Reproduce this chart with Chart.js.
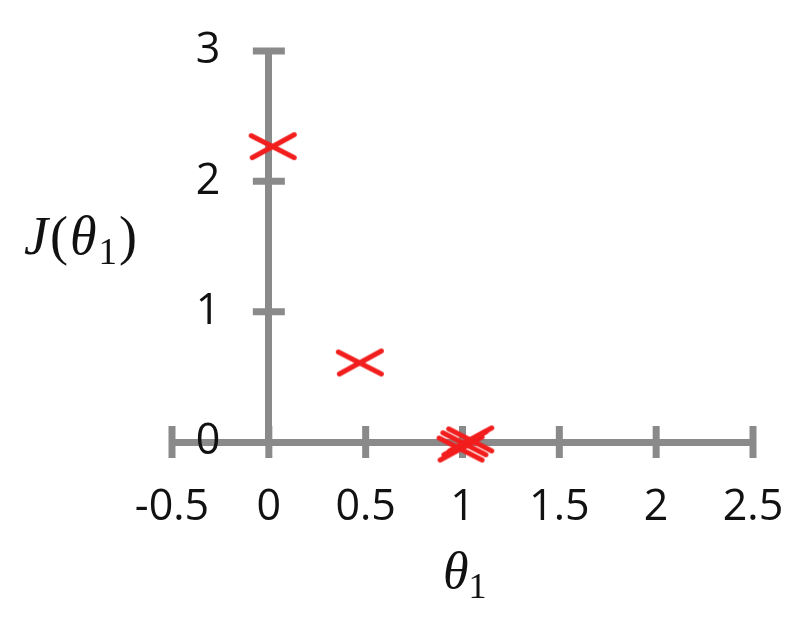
<!DOCTYPE html>
<html>
<head>
<meta charset="utf-8">
<script src="https://cdn.jsdelivr.net/npm/chart.js@4/dist/chart.umd.min.js"></script>
<style>
  html, body { margin: 0; padding: 0; background: #fff; }
  #wrap { position: relative; width: 799px; height: 629px; }
  #c { position: absolute; left: 0; top: 0; }
  .lab { position: absolute; font-family: 'Liberation Serif', 'DejaVu Serif', serif; color: #111; white-space: nowrap; }
  .lab sub { vertical-align: -10px; font-style: normal; }
  .lab i { font-style: italic; }
  #ylab { font-size: 54px; line-height: 56px; letter-spacing: 2px; }
  #ylab sub { font-size: 37px; }
  #xlab { font-size: 52px; line-height: 52px; }
  #xlab sub { font-size: 36px; }
</style>
</head>
<body>
<div id="wrap">
  <canvas id="c" width="799" height="629"></canvas>
  <div class="lab" id="ylab" style="left:24px; top:208px;"><i>J</i>(<i>θ</i><sub>1</sub>)</div>
  <div class="lab" id="xlab" style="left:443px; top:545px;"><i>θ</i><sub>1</sub></div>
</div>
<script>
// ---- data ----
const xTickLabels = ['-0.5', '0', '0.5', '1', '1.5', '2', '2.5'];
const yTickLabels = ['0', '1', '2', '3'];
const thetaValues = [0.02, 0.47, 0.99, 1.01, 1.04];
const costValues  = [2.27, 0.61, -0.05, -0.01, 0.02];

const points = thetaValues.map((x, i) => ({ x: x, y: costValues[i] }));

// hand-drawn looking flattened X marker
function makeX(w, h, lw, color) {
  const cv = document.createElement('canvas');
  cv.width = w; cv.height = h;
  const g = cv.getContext('2d');
  g.strokeStyle = color; g.lineWidth = lw; g.lineCap = 'round';
  const p = lw / 2 + 1;
  g.beginPath();
  g.moveTo(p, p + 1); g.lineTo(w - p, h - p);
  g.moveTo(p + 1, h - p); g.lineTo(w - p, p);
  g.stroke();
  return cv;
}
const marker = makeX(50, 30, 5, '#f21d1d');

const AXIS_COLOR = '#8a8a8a';

const crossTicks = {
  id: 'crossTicks',
  beforeDatasetsDraw(chart) {
    const ctx = chart.ctx;
    const xs = chart.scales.x, ys = chart.scales.y;
    const x0 = xs.getPixelForValue(0), y0 = ys.getPixelForValue(0);
    const half = 16;
    ctx.save();
    ctx.strokeStyle = AXIS_COLOR;
    ctx.lineWidth = 7;
    ctx.lineCap = 'butt';
    ctx.beginPath();
    xs.ticks.forEach(t => {
      const px = xs.getPixelForValue(t.value);
      ctx.moveTo(px, y0 - half); ctx.lineTo(px, y0 + half);
    });
    ys.ticks.forEach(t => {
      if (t.value === 0) return;
      const py = ys.getPixelForValue(t.value);
      ctx.moveTo(x0 - half, py); ctx.lineTo(x0 + half, py);
    });
    ctx.stroke();
    ctx.restore();
  }
};

const tickFont = { family: "'Open Sans', 'Liberation Sans', sans-serif", size: 43 };

new Chart(document.getElementById('c'), {
  type: 'scatter',
  data: {
    datasets: [{
      data: points,
      pointStyle: marker,
      pointRadius: 15,
      pointHoverRadius: 15,
      clip: false
    }]
  },
  options: {
    responsive: false,
    animation: false,
    events: [],
    layout: { padding: { left: 172, right: 46, top: 51, bottom: 187 } },
    plugins: { legend: { display: false }, tooltip: { enabled: false } },
    scales: {
      x: {
        type: 'linear',
        position: { y: 0 },
        min: -0.5, max: 2.5,
        grid: { display: true, drawOnChartArea: false, drawTicks: false, color: 'rgba(0,0,0,0)' },
        border: { display: true, color: AXIS_COLOR, width: 7 },
        ticks: { display: false, stepSize: 0.5 }
      },
      xLabels: {
        type: 'linear',
        axis: 'x',
        position: { y: -0.308 },
        min: -0.5, max: 2.5,
        grid: { display: false, drawTicks: false },
        border: { display: false },
        ticks: {
          stepSize: 0.5,
          maxRotation: 0, autoSkip: false,
          padding: 0,
          color: '#111',
          font: tickFont,
          callback: (v, i) => xTickLabels[i]
        }
      },
      y: {
        type: 'linear',
        position: { x: 0 },
        min: 0, max: 3,
        grid: { display: true, drawOnChartArea: false, drawTicks: false, color: 'rgba(0,0,0,0)' },
        border: { display: true, color: AXIS_COLOR, width: 7 },
        ticks: { display: false, stepSize: 1 }
      },
      yLabels: {
        type: 'linear',
        axis: 'y',
        position: { x: -0.25 },
        min: 0, max: 3,
        grid: { display: false, drawTicks: false },
        border: { display: false },
        ticks: {
          stepSize: 1,
          padding: 0,
          color: '#111',
          font: tickFont,
          callback: (v, i) => yTickLabels[i]
        }
      }
    }
  },
  plugins: [crossTicks]
});
</script>
</body>
</html>
